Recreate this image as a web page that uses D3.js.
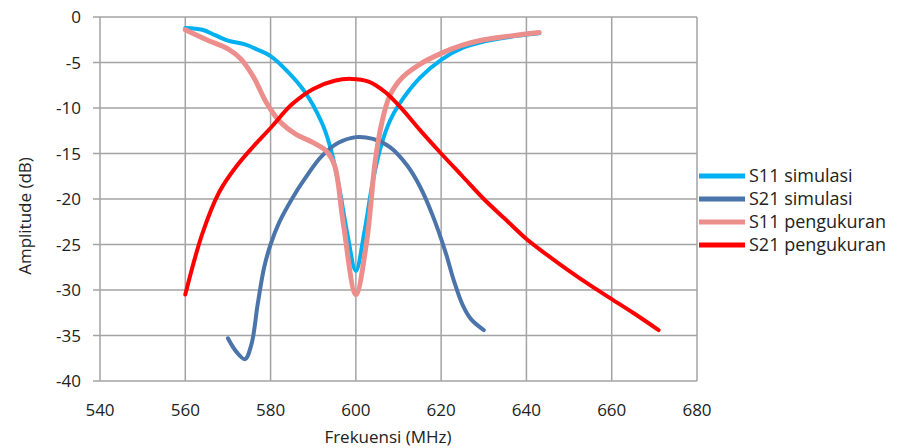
<!DOCTYPE html>
<html><head><meta charset="utf-8">
<script src="https://cdn.jsdelivr.net/npm/d3@7"></script>
<style>
html,body{margin:0;padding:0;background:#fff;}
svg{display:block;font-family:"Open Sans",sans-serif;}
</style></head>
<body>
<svg id="chart" width="900" height="448"></svg>
<script>
const xTicks = [540,560,580,600,620,640,660,680];
const yTicks = [0,-5,-10,-15,-20,-25,-30,-35,-40];
const seriesNames = ["S11 simulasi","S21 simulasi","S11 pengukuran","S21 pengukuran"];
const seriesColors = ["#00b0f0","#4a74aa","#ec8e8c","#ff0000"];
const seriesWidths = [4,4,5,4];

const s11Sim = [[560,-1.2],[564,-1.4],[567,-2.0],[570,-2.6],[574,-3.0],[577,-3.6],[580,-4.3],[584,-6.0],[588,-8.2],[592,-11.6],[594,-14.3],[596,-18.5],[598,-23.8],[600,-27.9],[602,-23.6],[604,-18.0],[606,-14.0],[608,-11.4],[610,-9.7],[615,-6.7],[620,-4.7],[625,-3.4],[630,-2.7],[636,-2.2],[643,-1.8]];
const s21Sim = [[570,-35.3],[572,-36.8],[574,-37.6],[575.5,-36.0],[577,-31.5],[578.5,-27.5],[580,-25.0],[582,-22.6],[585,-20.0],[588,-17.8],[592,-15.3],[596,-13.8],[600,-13.2],[604,-13.4],[608,-14.3],[612,-16.3],[615,-18.6],[618,-21.8],[621,-25.8],[623,-29.0],[625,-31.6],[627,-33.2],[630,-34.4]];
const s11Meas = [[560,-1.4],[565,-2.5],[570,-3.5],[573,-4.6],[576,-6.6],[579,-9.4],[582,-11.4],[586,-12.9],[590,-13.8],[593,-14.7],[595,-16.3],[597,-22.5],[600,-30.5],[602.5,-24.8],[604.5,-16.0],[606,-11.8],[608,-8.6],[611,-6.6],[615,-5.2],[620,-4.0],[625,-3.1],[630,-2.5],[636,-2.1],[643,-1.7]];
const s21Meas = [[560,-30.5],[564,-23.8],[568,-19.2],[572,-16.4],[576,-14.2],[580,-12.2],[585,-9.6],[590,-7.9],[595,-7.0],[599,-6.8],[603,-7.1],[607,-8.3],[611,-10.2],[615,-12.4],[620,-15.0],[625,-17.5],[630,-20.0],[635,-22.2],[640,-24.4],[645,-26.2],[650,-27.9],[655,-29.5],[660,-31.0],[665,-32.5],[671,-34.4]];
const seriesData = [s11Sim, s21Sim, s11Meas, s21Meas];
const drawOrder = [0,1,2,3];

const svg = d3.select("#chart");
const L=100, R=697, T=17, B=381;
const x = d3.scaleLinear().domain([540,680]).range([L,R]);
const y = d3.scaleLinear().domain([-40,0]).range([B,T]);
const grid = "#a3a3a3";

// gridlines
svg.append("g").selectAll("line").data(yTicks).join("line")
  .attr("x1",L-7).attr("x2",R).attr("y1",d=>y(d)).attr("y2",d=>y(d))
  .attr("stroke",grid).attr("stroke-width",1.5);
svg.append("g").selectAll("line").data(xTicks).join("line")
  .attr("x1",d=>x(d)).attr("x2",d=>x(d)).attr("y1",T).attr("y2",B)
  .attr("stroke",grid).attr("stroke-width",1.5);

// tick labels
svg.append("g").selectAll("text").data(yTicks).join("text")
  .attr("x",81).attr("y",d=>y(d)).attr("dy","0.36em")
  .attr("text-anchor","end").attr("font-size",17).attr("fill","#222")
  .text(d=>d);
svg.append("g").selectAll("text").data(xTicks).join("text")
  .attr("x",d=>x(d)).attr("y",416)
  .attr("text-anchor","middle").attr("font-size",17).attr("fill","#222")
  .text(d=>d);

// axis titles
svg.append("text").attr("transform","translate(31,216) rotate(-90)")
  .attr("text-anchor","middle").attr("font-size",17).attr("fill","#222")
  .text("Amplitude (dB)");
svg.append("text").attr("x",388).attr("y",443)
  .attr("text-anchor","middle").attr("font-size",17).attr("fill","#222")
  .text("Frekuensi (MHz)");

// lines
const line = d3.line().x(d=>x(d[0])).y(d=>y(d[1])).curve(d3.curveCatmullRom.alpha(0.5));
drawOrder.forEach(i=>{
  svg.append("path").datum(seriesData[i]).attr("d",line)
    .attr("fill","none").attr("stroke",seriesColors[i])
    .attr("stroke-width",seriesWidths[i]).attr("stroke-linecap","round").attr("stroke-linejoin","round");
});

// legend
const lg = svg.append("g");
seriesNames.forEach((n,i)=>{
  const yy = 176 + i*23;
  lg.append("line").attr("x1",699).attr("x2",745).attr("y1",yy).attr("y2",yy)
    .attr("stroke",seriesColors[i]).attr("stroke-width",5);
  lg.append("text").attr("x",749).attr("y",yy).attr("dy","0.35em")
    .attr("font-size",18).attr("fill","#222").text(n);
});
</script>
</body></html>
